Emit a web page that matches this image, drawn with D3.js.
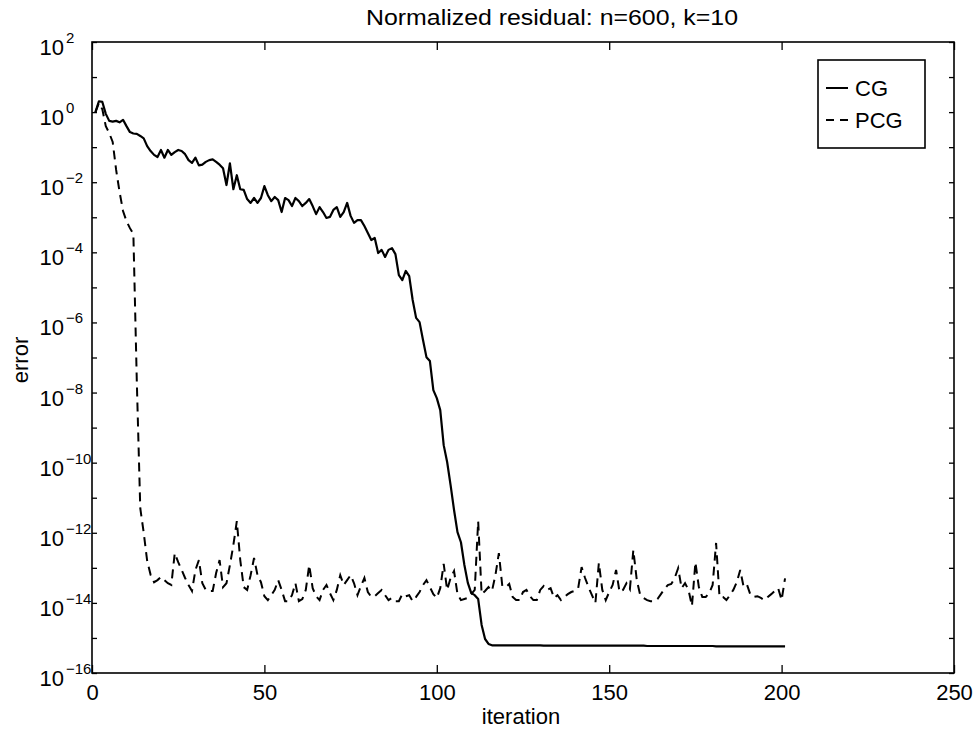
<!DOCTYPE html>
<html>
<head>
<meta charset="utf-8">
<script src="https://cdn.jsdelivr.net/npm/d3@7"></script>
<style>
body { margin: 0; background: #fff; }
svg { font-family: "Liberation Sans", Arial, Helvetica, sans-serif; }
</style>
</head>
<body>
<svg id="chart" width="974" height="731"></svg>
<script>
// values, stored as log10(error), one per iteration (1..201)
var xTicks = [0, 50, 100, 150, 200, 250];
var yTickExps = [2, 1, 0, -1, -2, -3, -4, -5, -6, -7, -8, -9, -10, -11, -12, -13, -14, -15, -16];
var yLabelExps = [2, 0, -2, -4, -6, -8, -10, -12, -14, -16];
var seriesNames = ["CG", "PCG"];

var cgLogErr = [
  0.00, 0.31, 0.29, -0.05, -0.25, -0.27, -0.25, -0.29, -0.22, -0.40,
  -0.57, -0.61, -0.62, -0.68, -0.75, -0.97, -1.11, -1.22, -1.28, -1.08,
  -1.30, -1.08, -1.22, -1.14, -1.08, -1.11, -1.20, -1.37, -1.45, -1.30,
  -1.52, -1.50, -1.42, -1.37, -1.35, -1.42, -1.50, -1.60, -2.08, -1.46,
  -2.20, -1.80, -2.20, -2.22, -2.48, -2.59, -2.45, -2.59, -2.45, -2.11,
  -2.37, -2.54, -2.42, -2.51, -2.85, -2.45, -2.51, -2.68, -2.45, -2.54,
  -2.68, -2.59, -2.48, -2.68, -2.91, -2.71, -2.85, -3.02, -2.99, -2.79,
  -2.71, -2.99, -2.85, -2.59, -2.96, -3.16, -3.08, -3.08, -3.25, -3.45,
  -3.65, -3.59, -4.02, -3.93, -4.13, -3.93, -3.88, -4.05, -4.65, -4.79,
  -4.53, -4.68, -5.36, -5.87, -5.99, -6.50, -6.99, -7.10, -7.93, -8.16,
  -8.50, -9.50, -9.98, -10.64, -11.35, -11.98, -12.27, -12.92, -13.43, -13.72,
  -13.78, -13.89, -14.63, -15.03, -15.17, -15.21, -15.21, -15.21, -15.21, -15.21,
  -15.21, -15.21, -15.21, -15.21, -15.21, -15.21, -15.21, -15.21, -15.21, -15.21,
  -15.22, -15.22, -15.22, -15.22, -15.22, -15.22, -15.22, -15.22, -15.22, -15.22,
  -15.22, -15.22, -15.22, -15.22, -15.22, -15.22, -15.22, -15.22, -15.22, -15.22,
  -15.22, -15.22, -15.22, -15.22, -15.22, -15.22, -15.22, -15.22, -15.22, -15.22,
  -15.23, -15.23, -15.23, -15.23, -15.23, -15.23, -15.23, -15.23, -15.23, -15.23,
  -15.23, -15.23, -15.23, -15.23, -15.23, -15.23, -15.23, -15.23, -15.23, -15.23,
  -15.24, -15.24, -15.24, -15.24, -15.24, -15.24, -15.24, -15.24, -15.24, -15.24,
  -15.24, -15.24, -15.24, -15.24, -15.24, -15.24, -15.24, -15.24, -15.24, -15.24,
  -15.24
];

var pcgLogErr = [
  0.00, 0.26, 0.08, -0.40, -0.60, -0.85, -1.65, -2.28, -2.82, -3.11,
  -3.31, -3.48, -7.70, -11.30, -12.00, -12.80, -13.20, -13.41, -13.35, -13.26,
  -13.35, -13.44, -13.49, -12.58, -12.84, -13.06, -13.29, -13.49, -13.66, -13.06,
  -12.78, -13.44, -13.63, -13.66, -13.66, -13.15, -12.78, -13.55, -13.44, -12.92,
  -12.35, -11.67, -12.78, -13.55, -13.63, -13.21, -12.72, -13.21, -13.41, -13.81,
  -13.92, -13.78, -13.63, -13.35, -13.63, -13.95, -13.95, -13.78, -13.44, -13.95,
  -13.89, -13.63, -12.92, -13.58, -13.81, -13.92, -13.63, -13.49, -13.72, -13.92,
  -13.63, -13.21, -13.49, -13.35, -13.21, -13.44, -13.78, -13.52, -13.29, -13.69,
  -13.83, -13.81, -13.72, -13.63, -13.78, -13.92, -13.86, -13.95, -13.95, -13.75,
  -13.81, -13.78, -13.95, -13.83, -13.69, -13.49, -13.35, -13.55, -13.75, -13.86,
  -13.58, -12.89, -13.63, -13.29, -13.09, -13.75, -13.92, -13.89, -13.86, -13.75,
  -13.63, -11.67, -13.75, -13.66, -13.55, -13.66, -13.21, -12.58, -13.52, -13.55,
  -13.46, -13.83, -13.92, -13.92, -13.69, -13.63, -13.81, -13.92, -13.92, -13.63,
  -13.52, -13.63, -13.58, -13.86, -13.78, -13.92, -13.83, -13.75, -13.69, -13.66,
  -13.58, -12.98, -13.29, -13.55, -13.78, -14.00, -12.86, -13.63, -13.92, -13.69,
  -13.49, -13.06, -13.69, -13.63, -13.44, -13.61, -12.49, -13.35, -13.78, -13.86,
  -13.92, -13.95, -13.95, -13.89, -13.75, -13.61, -13.49, -13.46, -13.29, -13.01,
  -13.58, -13.44, -13.63, -14.09, -12.84, -13.55, -13.83, -13.83, -13.72, -13.49,
  -12.29, -13.83, -13.83, -13.92, -13.78, -13.63, -13.41, -13.06, -13.55, -13.49,
  -13.78, -13.83, -13.81, -13.86, -13.92, -13.83, -13.75, -13.66, -13.58, -13.92,
  -13.30
];

function drawChart() {
  var svg = d3.select("#chart");
  var plotL = 92, plotR = 954, plotT = 42, plotB = 673;

  var x = d3.scaleLinear().domain([0, 250]).range([plotL, plotR]);
  var y = d3.scaleLog().domain([1e-16, 1e2]).range([plotB, plotT]);

  var yTickVals = yTickExps.map(function (e) { return Math.pow(10, e); });

  function blackTicks(g) {
    g.select(".domain").remove();
    g.selectAll("line").attr("stroke", "#000").attr("stroke-width", 1.3);
  }

  // ticks pointing inwards on all four sides
  svg.append("g")
    .attr("transform", "translate(0," + plotB + ")")
    .call(d3.axisBottom(x).tickValues(xTicks).tickSize(-8).tickPadding(11).tickFormat(d3.format("d")))
    .call(blackTicks)
    .call(function (g) {
      g.selectAll("text").attr("font-size", 22).attr("fill", "#000")
        .attr("font-family", "Liberation Sans, Arial, sans-serif");
    });

  svg.append("g")
    .attr("transform", "translate(0," + plotT + ")")
    .call(d3.axisTop(x).tickValues(xTicks).tickSize(-8).tickFormat(""))
    .call(blackTicks);

  svg.append("g")
    .attr("transform", "translate(" + plotL + ",0)")
    .call(d3.axisLeft(y).tickValues(yTickVals).tickSize(-5).tickFormat(""))
    .call(blackTicks);

  svg.append("g")
    .attr("transform", "translate(" + plotR + ",0)")
    .call(d3.axisRight(y).tickValues(yTickVals).tickSize(-5).tickFormat(""))
    .call(blackTicks);

  // 10^n labels on the left
  var yLab = svg.append("g").attr("fill", "#000");
  yLabelExps.forEach(function (e) {
    var yy = y(Math.pow(10, e));
    yLab.append("text")
      .attr("x", 64).attr("y", yy + 13)
      .attr("text-anchor", "end")
      .attr("font-size", 22)
      .text("10");
    yLab.append("text")
      .attr("x", 66).attr("y", yy + 1)
      .attr("font-size", 15)
      .text(e < 0 ? "\u2212" + (-e) : String(e));
  });

  // frame
  svg.append("rect")
    .attr("x", plotL).attr("y", plotT)
    .attr("width", plotR - plotL).attr("height", plotB - plotT)
    .attr("fill", "none").attr("stroke", "#000").attr("stroke-width", 1.6);

  var line = d3.line()
    .x(function (d, i) { return x(i + 1); })
    .y(function (d) { return y(Math.pow(10, d)); });

  svg.append("path")
    .datum(cgLogErr)
    .attr("d", line)
    .attr("fill", "none")
    .attr("stroke", "#000")
    .attr("stroke-width", 2.2)
    .attr("stroke-linejoin", "round");

  svg.append("path")
    .datum(pcgLogErr)
    .attr("d", line)
    .attr("fill", "none")
    .attr("stroke", "#000")
    .attr("stroke-width", 2)
    .attr("stroke-dasharray", "9,6");

  // title and axis labels
  svg.append("text")
    .attr("x", 552).attr("y", 25)
    .attr("text-anchor", "middle")
    .attr("font-size", 22)
    .attr("textLength", 372).attr("lengthAdjust", "spacingAndGlyphs")
    .text("Normalized residual: n=600, k=10");

  svg.append("text")
    .attr("x", 521).attr("y", 724)
    .attr("text-anchor", "middle")
    .attr("font-size", 22)
    .text("iteration");

  svg.append("text")
    .attr("transform", "translate(28,360) rotate(-90)")
    .attr("text-anchor", "middle")
    .attr("font-size", 22)
    .text("error");

  // legend
  var lg = svg.append("g");
  lg.append("rect")
    .attr("x", 818).attr("y", 60).attr("width", 107).attr("height", 88)
    .attr("fill", "#fff").attr("stroke", "#000").attr("stroke-width", 1.6);
  seriesNames.forEach(function (name, i) {
    var ly = 88 + i * 32;
    lg.append("line")
      .attr("x1", 826).attr("x2", 848).attr("y1", ly).attr("y2", ly)
      .attr("stroke", "#000").attr("stroke-width", 2)
      .attr("stroke-dasharray", i === 1 ? "8,6" : null);
    lg.append("text")
      .attr("x", 855).attr("y", ly + 8)
      .attr("font-size", 22)
      .text(name);
  });
}

drawChart();
</script>
</body>
</html>
